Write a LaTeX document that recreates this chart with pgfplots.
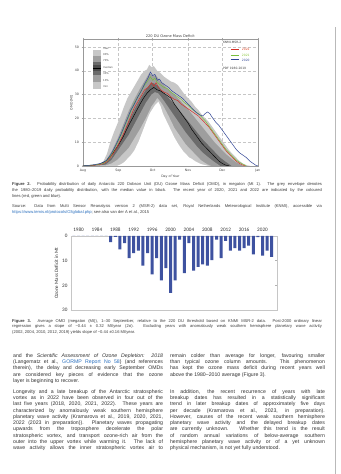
\documentclass[border=0pt]{standalone}
\usepackage{fontspec}
\setmainfont{Liberation Sans}
\newfontfamily\dejavu{DejaVu Sans}
\newfontfamily\carlito{Carlito}
\usepackage{pgfplots}
\pgfplotsset{compat=1.18}
\definecolor{barblue}{RGB}{62,82,160}
\definecolor{lred}{RGB}{214,48,40}
\definecolor{lgreen}{RGB}{120,190,60}
\definecolor{lblue}{RGB}{50,70,150}
\definecolor{linkblue}{RGB}{40,110,190}
\definecolor{txt}{RGB}{60,60,60}
\pgfplotstableread{
year omd
1979 0
1980 0
1981 0
1982 0
1983 0
1984 0
1985 0
1986 0
1987 2.5
1988 0.4
1989 5.5
1990 3
1991 9
1992 7
1993 6
1994 12
1995 7
1996 15.5
1997 9
1998 18
1999 13
2000 23
2001 18
2002 1.5
2003 15
2004 3
2005 14
2006 12.5
2007 11.5
2008 12
2009 9.8
2010 1.5
2011 9
2012 2
2013 6
2014 5
2015 6
2016 5
2017 4
2018 7.5
2019 0.5
2020 8
2021 6
2022 8.5
}\omdtable
\newcommand{\jl}[4]{\node[anchor=base west,inner sep=0pt] at (#1pt,{(474-#2)*1pt}) {\makebox[#3pt][s]{#4}};}
\newcommand{\lline}[3]{\node[anchor=base west,inner sep=0pt] at (#1pt,{(474-#2)*1pt}) {#3};}
\begin{document}
\begin{tikzpicture}
\fill[white] (0pt,0pt) rectangle (341pt,474pt);
\draw[gray!55,line width=0.8pt] (336pt,0pt) -- (336pt,447pt);
% ---------------- chart 1
\begin{axis}[at={(83pt,308pt)},anchor=south west,scale only axis,width=175pt,height=127pt,
 xmin=0,xmax=153,ymin=0,ymax=53.4,
 xtick={0,31,61,92,122,153},xticklabels={Aug,Sep,Oct,Nov,Dec,Jan},
 ytick={0,10,20,30,40,50},
 grid=major,grid style={densely dashed,gray!45,line width=0.3pt},
 axis line style={gray!80,line width=0.4pt},tick style={gray!70,line width=0.3pt},
 major tick length=1.2pt,tick align=outside,
 /pgf/number format/assume math mode=true,
 ticklabel style={font=\dejavu\fontsize{3.2}{3.5}\selectfont,text=black!75},
 xticklabel style={yshift=1pt},yticklabel style={xshift=0.8pt},
 xlabel={Day of Year},ylabel={OMD [Mt]},
 label style={font=\dejavu\fontsize{3.2}{3.5}\selectfont,text=black!75},
 xlabel style={yshift=4.5pt},ylabel style={yshift=-5pt},
 title={220 DU Ozone Mass Deficit},
 title style={font=\dejavu\fontsize{3.6}{4}\selectfont,text=black!75,yshift=-8.3pt}]
% envelope: max, 90%, 70%, 30%, 10%, min
\addplot[draw=none,fill=black!22] coordinates {(0,0)(10,0.3)(15,0.8)(18,2)(21,5)(24,10)(27,14)(30,17.5)(33,21)(36,25)(39,28.5)(42,31)(45,33.5)(48,36)(51,38.5)(54,40)(56,40.5)(58,42.5)(60,41.5)(62,42)(65,40)(68,39)(71,37.5)(74,36.5)(77,35.5)(80,35)(83,34)(86,32)(89,30)(92,28.5)(95,27)(98,25)(101,23.5)(104,21.5)(107,20)(110,18.5)(113,16.5)(116,14.5)(119,12.5)(122,10.5)(125,8.5)(128,6.5)(131,5)(134,3.5)(137,2)(140,1)(143,0.3)(146,0)} \closedcycle;
\addplot[draw=none,fill=black!38] coordinates {(0,0)(10,0.2)(15,0.5)(20,2)(25,6)(30,11)(35,17)(40,23)(45,28)(50,32.5)(55,36.5)(58,39)(61,38)(64,38)(67,36)(70,34.5)(75,32)(80,30)(85,27.5)(90,25)(95,22)(100,19)(105,16)(110,13)(115,10)(120,7.5)(125,5)(130,3)(133,1.8)(136,1)(140,0)} \closedcycle;
\addplot[draw=none,fill=black!58] coordinates {(0,0)(10,0.1)(15,0.3)(20,1.2)(25,3.5)(30,8)(35,13)(40,18.5)(45,23.5)(50,28)(55,32)(60,35)(63,34.5)(66,33.5)(70,31)(75,28.5)(80,26)(85,23)(90,20)(95,17)(100,14)(105,11)(110,8.5)(115,6)(120,3.5)(124,2)(127,1)(130,0)} \closedcycle;
\addplot[draw=none,fill=black!38] coordinates {(0,0)(15,0.1)(20,0.6)(25,2.5)(30,6)(35,9.5)(40,13)(45,17.5)(50,22)(55,26.5)(60,30)(63,31)(66,30.5)(70,28)(75,24.5)(80,21)(85,17.5)(90,14)(95,11)(100,8)(105,5.5)(110,3.5)(114,2)(117,1)(120,0)} \closedcycle;
\addplot[draw=none,fill=black!22] coordinates {(0,0)(20,0.2)(25,1)(30,2.5)(35,5)(40,7.5)(45,11.5)(50,15.5)(55,20)(60,25)(63,27)(65,28.5)(67,27.5)(70,25.5)(75,21)(80,16)(85,12.5)(90,9)(95,6.5)(100,4)(103,2.5)(106,1.5)(109,0.6)(112,0)} \closedcycle;
\addplot[draw=none,fill=white] coordinates {(0,0)(30,0)(33,0.6)(36,1.5)(39,3)(42,4.5)(45,6.5)(47,8.5)(49,10.5)(51,13)(53,15.5)(55,18)(57,20.5)(59,22.5)(61,24)(63,25.5)(66,27)(68,25)(70,22)(72,20)(75,17)(78,14)(80,12)(83,9.5)(85,8)(88,6)(90,5)(93,3.5)(95,3)(98,2)(100,1.5)(103,0.8)(106,0.4)(110,0)} \closedcycle;
% median and recent years
\addplot[black,line width=0.45pt] coordinates {(0,0)(10,0.3)(15,0.8)(20,2)(25,4.5)(30,8)(35,12)(40,17)(45,21.5)(50,26)(53,28.5)(56,30.5)(59,32)(62,33)(65,32)(68,31.5)(71,30.5)(74,29.5)(77,28.5)(80,26)(83,24)(86,22)(89,20)(92,18)(95,15.5)(98,13.5)(101,11.5)(104,9.5)(107,8)(110,6.5)(113,5)(116,3.5)(119,2)(122,1)(125,0.3)(128,0)};
\addplot[lred,line width=0.5pt] coordinates {(0,0)(5,0.1)(10,0.3)(15,0.6)(18,1)(21,1.8)(24,3.5)(27,5.5)(30,8)(33,11)(36,14)(39,17.5)(42,21)(45,24.5)(48,27)(51,29.5)(54,32)(57,33)(60,35)(62,33.5)(64,35)(66,33)(68,32)(71,31)(74,30.5)(77,29)(80,28)(83,27.5)(86,26)(89,25)(92,24)(95,23)(98,22)(101,21)(104,19.5)(107,18)(110,16.5)(113,14.5)(116,12.5)(119,10.5)(122,8.5)(125,6.5)(128,5)(131,3.5)(134,2)(137,1)(140,0.3)(142,0)};
\addplot[lgreen,line width=0.5pt] coordinates {(0,0)(5,0.2)(10,0.4)(15,0.8)(18,1.2)(21,2.2)(24,4)(27,6.5)(30,9.5)(33,12.5)(36,16)(39,19.5)(42,23)(45,26.5)(48,29)(51,31.5)(54,34)(57,36)(59,37.5)(61,36)(63,37)(65,35)(68,34)(71,33)(74,32.5)(77,31)(80,30)(83,29)(86,28)(89,26.5)(92,25.5)(95,24)(98,23)(101,22)(104,20.5)(107,19)(110,17)(113,15)(116,13)(119,11)(122,9)(125,7)(128,5.5)(131,4)(134,2.5)(137,1.5)(140,0.7)(143,0)};
\addplot[lblue,line width=0.5pt] coordinates {(0,0)(5,0.2)(10,0.5)(15,1)(18,1.5)(21,2.5)(24,4.5)(27,7)(30,10)(33,13)(36,16.5)(39,20)(42,23.5)(45,26)(48,29)(51,31.5)(54,34.5)(57,37)(59,39.5)(61,38)(63,38.5)(65,36)(67,36.5)(69,35)(72,34)(75,33)(78,31.5)(81,30.5)(84,29.5)(87,28.5)(90,27)(93,25.5)(96,24)(99,22.5)(102,21.5)(105,21)(107,22)(109,22.7)(111,22)(113,20.5)(116,18.5)(119,17)(122,15)(125,13)(128,11)(131,9)(134,7)(137,5.5)(140,4.5)(143,3.5)(146,2)(149,1)(151,0.3)(153,0)};
\end{axis}
% legend chart 1 (percentile bar)
\fill[black!22] (93pt,424pt) rectangle (101pt,385pt);
\fill[black!38] (93pt,418pt) rectangle (101pt,392pt);
\fill[black!58] (93pt,412pt) rectangle (101pt,399pt);
\fill[black!70] (93pt,409pt) rectangle (101pt,403pt);
\draw[black,line width=0.4pt] (93pt,406pt) -- (101pt,406pt);
\begin{scope}[every node/.style={anchor=west,inner sep=0pt,font=\dejavu\fontsize{2.6}{3}\selectfont,text=black!70}]
\node at (103pt,425pt) {max};
\node at (103pt,419pt) {90\%};
\node at (103pt,413pt) {70\%};
\node at (103pt,406pt) {median};
\node at (103pt,400pt) {30\%};
\node at (103pt,393pt) {10\%};
\node at (103pt,387pt) {min};
\end{scope}
% legend chart 1 (years)
\begin{scope}[every node/.style={anchor=west,inner sep=0pt,font=\dejavu\fontsize{3}{3.3}\selectfont}]
\node[text=black!75] at (223pt,432pt) {KNMI-MSR-2};
\draw[lred,line width=0.9pt] (231pt,425pt) -- (239pt,425pt);
\node[text=lred!80!orange] at (242pt,425pt) {2022};
\draw[lgreen,line width=0.9pt] (231pt,419pt) -- (239pt,419pt);
\node[text=lgreen!90!yellow] at (242pt,419pt) {2021};
\draw[lblue,line width=0.9pt] (231pt,414pt) -- (239pt,414pt);
\node[text=lblue] at (242pt,414pt) {2020};
\node[text=black!75] at (223pt,406pt) {PDF 1980-2019};
\end{scope}
% caption 1
\begin{scope}[font=\fontsize{4.1}{5}\selectfont,text=txt]
\jl{12}{185.3}{310}{\textbf{Figure 2.} Probability distribution of daily Antarctic 220 Dobson Unit (DU) Ozone Mass Deficit (OMD), in megaton (Mt 1). The grey envelope denotes}
\jl{12}{191.3}{310}{the 1980–2019 daily probability distribution, with the median value in black. The recent year of 2020, 2021 and 2022 are indicated by the coloured}
\lline{12}{197.3}{lines (red, green and blue).}
\jl{12}{207.3}{310}{Source: Data from Multi Sensor Reanalysis version 2 (MSR-2) data set, Royal Netherlands Meteorological Institute (KNMI), accessible via}
\lline{12}{213.3}{\textcolor{linkblue}{https://www.temis.nl/protocols/O3global.php}; see also van der A et al., 2015}
\end{scope}
% ---------------- chart 2
\begin{axis}[at={(71pt,163.5pt)},anchor=south west,scale only axis,width=206pt,height=74.5pt,
 xmin=1978.35,xmax=2023.1,ymin=0,ymax=30,y dir=reverse,
 xtick={1980,1984,...,2020},ytick={0,10,20,30},
 xticklabel pos=upper,
 x tick label style={/pgf/number format/1000 sep={},yshift=-1.2pt},
 axis line style={gray!45,line width=0.4pt},
 tick style={gray!60,line width=0.3pt},major tick length=1.5pt,
 xtick style={draw=none},
 ticklabel style={font=\carlito\fontsize{5.2}{6}\selectfont,text=black!80},
 /pgf/number format/assume math mode=true,
 ylabel={Ozone Mass Deficit in Mt},
 ylabel style={font=\carlito\fontsize{5}{6}\selectfont,text=black!80,yshift=-3pt},
 ybar,bar width=3pt,bar shift=0pt]
\addplot[fill=barblue,draw=none] table[x=year,y=omd] {\omdtable};
\end{axis}
% caption 2
\begin{scope}[font=\fontsize{4.1}{5}\selectfont,text=txt]
\jl{12}{322.3}{310}{\textbf{Figure 3.} Average OMD (megaton (Mt)), 1–30 September, relative to the 220 DU threshold based on KNMI MSR-2 data. Post-2000 ordinary linear}
\jl{12}{328}{310}{regression gives a slope of −0.44 ± 0.32 Mt/year (2σ). Excluding years with anomalously weak southern hemisphere planetary wave activity}
\lline{12}{333.7}{(2002, 2004, 2010, 2012, 2019) yields slope of −0.44 ±0.16 Mt/year.}
\end{scope}
% body text
\begin{scope}[font=\fontsize{5.2}{6}\selectfont,text=black!80]
\jl{13}{357.5}{150}{and the \textit{Scientific Assessment of Ozone Depletion: 2018}}
\jl{13}{363.8}{150}{(Langematz et al., \textcolor{linkblue}{GORMP Report No 58}) (and references}
\jl{13}{370.1}{150}{therein), the delay and decreasing early September OMDs}
\jl{13}{376.4}{150}{are considered key pieces of evidence that the ozone}
\lline{13}{382.7}{layer is beginning to recover.}
\jl{13}{393.5}{150}{Longevity and a late breakup of the Antarctic stratospheric}
\jl{13}{399.8}{150}{vortex as in 2022 have been observed in four out of the}
\jl{13}{406.1}{150}{last five years (2018, 2020, 2021, 2022). These years are}
\jl{13}{412.4}{150}{characterized by anomalously weak southern hemisphere}
\jl{13}{418.7}{150}{planetary wave activity (Kramarova et al., 2019, 2020, 2021,}
\jl{13}{425}{150}{2022 (2023 in preparation)). Planetary waves propagating}
\jl{13}{431.3}{150}{upwards from the troposphere decelerate the polar}
\jl{13}{437.6}{150}{stratospheric vortex, and transport ozone-rich air from the}
\jl{13}{443.9}{150}{outer into the upper vortex while warming it. The lack of}
\jl{13}{450.2}{150}{wave activity allows the inner stratospheric vortex air to}
\jl{170}{357.5}{155}{remain colder than average for longer, favouring smaller}
\jl{170}{363.8}{155}{than typical ozone column amounts. This phenomenon}
\jl{170}{370.1}{155}{has kept the ozone mass deficit during recent years well}
\lline{170}{376.4}{above the 1980–2010 average (Figure 3).}
\jl{170}{393.5}{155}{In addition, the recent recurrence of years with late}
\jl{170}{399.8}{155}{breakup dates has resulted in a statistically significant}
\jl{170}{406.1}{155}{trend in later breakup dates of approximately five days}
\jl{170}{412.4}{155}{per decade (Kramarova et al., 2023, in preparation).}
\jl{170}{418.7}{155}{However, causes of the recent weak southern hemisphere}
\jl{170}{425}{155}{planetary wave activity and the delayed breakup dates}
\jl{170}{431.3}{155}{are currently unknown. Whether this trend is the result}
\jl{170}{437.6}{155}{of random annual variations of below-average southern}
\jl{170}{443.9}{155}{hemisphere planetary wave activity or of a yet unknown}
\lline{170}{450.2}{physical mechanism, is not yet fully understood.}
\end{scope}
\end{tikzpicture}
\end{document}
